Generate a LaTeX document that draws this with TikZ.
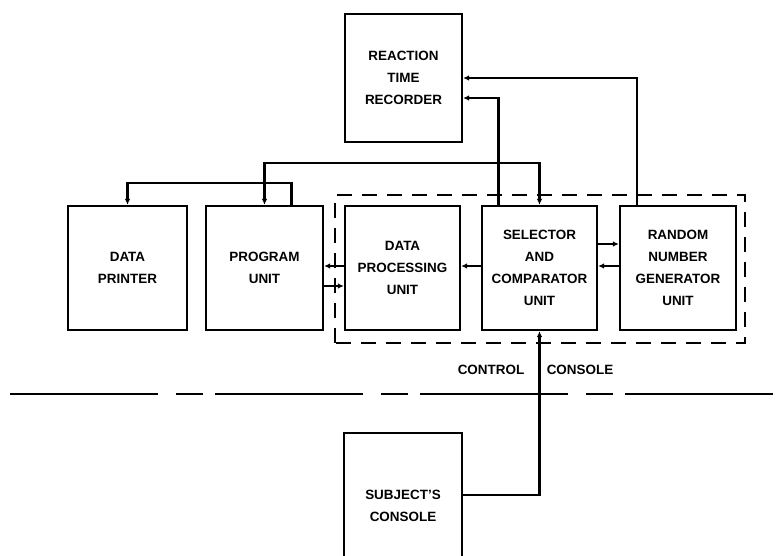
\documentclass[tikz,border=0pt]{standalone}
\usepackage{fontspec}
\setmainfont{Liberation Sans}
\usetikzlibrary{arrows.meta}
\begin{document}
\begin{tikzpicture}[x=1bp,y=1bp,line width=2.2pt,
  unitbox/.style={draw, minimum width=117bp, minimum height=124bp, align=center, inner sep=0pt},
  arr/.style={-{Latex[length=6pt,width=5.5pt]}},
  font=\fontsize{13.5}{22}\selectfont\bfseries]
\useasboundingbox (0,0) rectangle (783,556);
\node[unitbox, minimum height=128bp] (rtr) at (403.5,478) {REACTION\\TIME\\RECORDER};
\node[unitbox, minimum width=119bp] (printer) at (127.5,288) {DATA\\PRINTER};
\node[unitbox] (prog) at (264.5,288) {PROGRAM\\UNIT};
\node[unitbox, minimum width=115bp] (dpu) at (402.5,288) {DATA\\PROCESSING\\UNIT};
\node[unitbox, minimum width=115bp] (sel) at (539.5,288) {SELECTOR\\AND\\COMPARATOR\\UNIT};
\node[unitbox, minimum width=116bp] (rand) at (678,288) {RANDOM\\NUMBER\\GENERATOR\\UNIT};
\node[unitbox, minimum width=118bp, minimum height=146bp] (subj) at (403,50) {SUBJECT'S\\CONSOLE};
\node (ctl) at (491,186) {CONTROL};
\node (con) at (580,186) {CONSOLE};
\draw[dash pattern=on 15bp off 10bp] (335,213) rectangle (745,361);
\draw[dash pattern=on 148bp off 18bp on 27bp off 12bp] (10,162) -- (783,162);
\draw[arr] ([xshift=-41bp]rand.north) |- (rtr.east);
\draw[arr] ([xshift=-41bp]sel.north) |- ([yshift=-20bp]rtr.east);
\coordinate (tap) at (498.5,393);
\draw[arr] (tap) -| (sel.north);
\draw[arr] (tap) -| (prog.north);
\draw[arr] ([xshift=27bp]prog.north) -- ++(0,22) -| (printer.north);
\draw[arr] ([yshift=2bp]dpu.west) -- ([yshift=2bp]prog.east);
\draw[arr] ([yshift=-18bp]prog.east) -- ([yshift=-18bp]dpu.west);
\draw[arr] ([yshift=2bp]sel.west) -- ([yshift=2bp]dpu.east);
\draw[arr] ([yshift=24bp]sel.east) -- ([yshift=24bp]rand.west);
\draw[arr] ([yshift=2bp]rand.west) -- ([yshift=2bp]sel.east);
\draw[arr] ([yshift=11bp]subj.east) -| (sel.south);
\end{tikzpicture}
\end{document}
